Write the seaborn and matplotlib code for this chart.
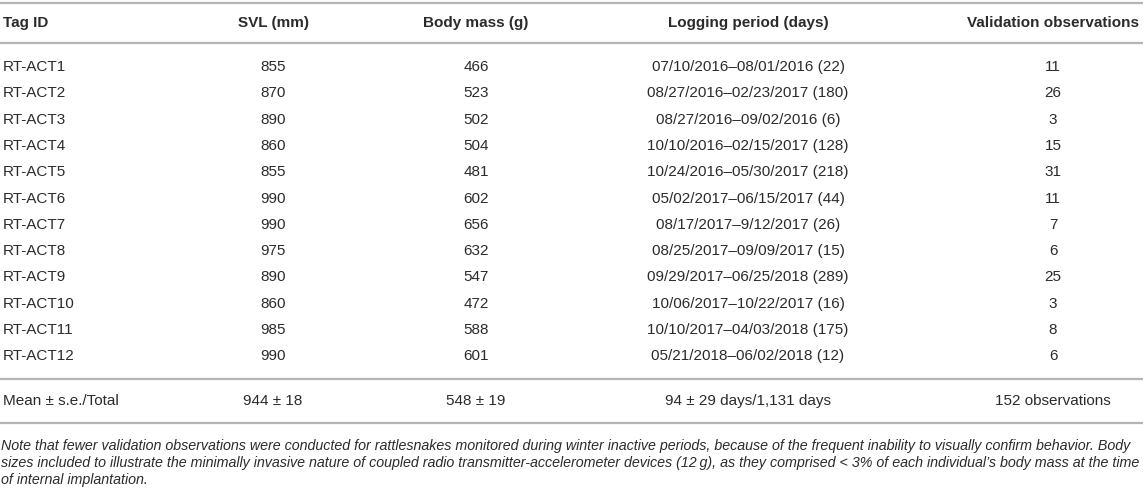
import matplotlib
matplotlib.use("Agg")
import matplotlib.pyplot as plt
import seaborn as sns

# ---- data ----
headers = ["Tag ID", "SVL (mm)", "Body mass (g)", "Logging period (days)", "Validation observations"]
tag_ids = ["RT-ACT1", "RT-ACT2", "RT-ACT3", "RT-ACT4", "RT-ACT5", "RT-ACT6",
           "RT-ACT7", "RT-ACT8", "RT-ACT9", "RT-ACT10", "RT-ACT11", "RT-ACT12"]
svl = [855, 870, 890, 860, 855, 990, 990, 975, 890, 860, 985, 990]
body_mass = [466, 523, 502, 504, 481, 602, 656, 632, 547, 472, 588, 601]
logging = ["07/10/2016–08/01/2016 (22)", "08/27/2016–02/23/2017 (180)",
           "08/27/2016–09/02/2016 (6)", "10/10/2016–02/15/2017 (128)",
           "10/24/2016–05/30/2017 (218)", "05/02/2017–06/15/2017 (44)",
           "08/17/2017–9/12/2017 (26)", "08/25/2017–09/09/2017 (15)",
           "09/29/2017–06/25/2018 (289)", "10/06/2017–10/22/2017 (16)",
           "10/10/2017–04/03/2018 (175)", "05/21/2018–06/02/2018 (12)"]
validation = [11, 26, 3, 15, 31, 11, 7, 6, 25, 3, 8, 6]
summary = ["Mean ± s.e./Total", "944 ± 18", "548 ± 19", "94 ± 29 days/1,131 days", "152 observations"]
note_lines = [
    "Note that fewer validation observations were conducted for rattlesnakes monitored during winter inactive periods, because of the frequent inability to visually confirm behavior. Body",
    "sizes included to illustrate the minimally invasive nature of coupled radio transmitter-accelerometer devices (12\u2009g), as they comprised < 3% of each individual\u2019s body mass at the time",
    "of internal implantation.",
]

# ---- layout ----
sns.set_theme(style="white")
plt.rcParams["font.family"] = ["Liberation Sans", "DejaVu Sans"]

W, H = 1143, 490
fig = plt.figure(figsize=(W / 100, H / 100), dpi=100)
ax = fig.add_axes([0, 0, 1, 1])
ax.set_xlim(0, W)
ax.set_ylim(H, 0)
ax.set_axis_off()
sns.despine(ax=ax, left=True, bottom=True)

txt = "#2b2b2b"
rule = "#b4b4b4"
fs = 11.0

col_x = [3, 273, 476, 748, 1053]
col_ha = ["left", "center", "center", "center", "center"]

# rules
for y in [3, 43, 379, 423]:
    ax.axhline(y, color=rule, lw=1.6)

# header
for x, ha, h in zip(col_x, col_ha, headers):
    ax.text(x, 23, h, ha=ha, va="center", fontsize=fs, fontweight="bold", color=txt)

# body rows
row_y0, row_dy = 67, 26.3
for i in range(len(tag_ids)):
    y = row_y0 + i * row_dy
    vals = [tag_ids[i], str(svl[i]), str(body_mass[i]), logging[i], str(validation[i])]
    for x, ha, v in zip(col_x, col_ha, vals):
        ax.text(x, y, v, ha=ha, va="center", fontsize=fs, color=txt)

# summary row
for x, ha, v in zip(col_x, col_ha, summary):
    ax.text(x, 401, v, ha=ha, va="center", fontsize=fs, color=txt)

# note
for j, line in enumerate(note_lines):
    ax.text(1, 446 + j * 17, line, ha="left", va="center", fontsize=10.3,
            fontstyle="italic", color=txt)

fig.savefig("out.png", dpi=100, facecolor="white")
